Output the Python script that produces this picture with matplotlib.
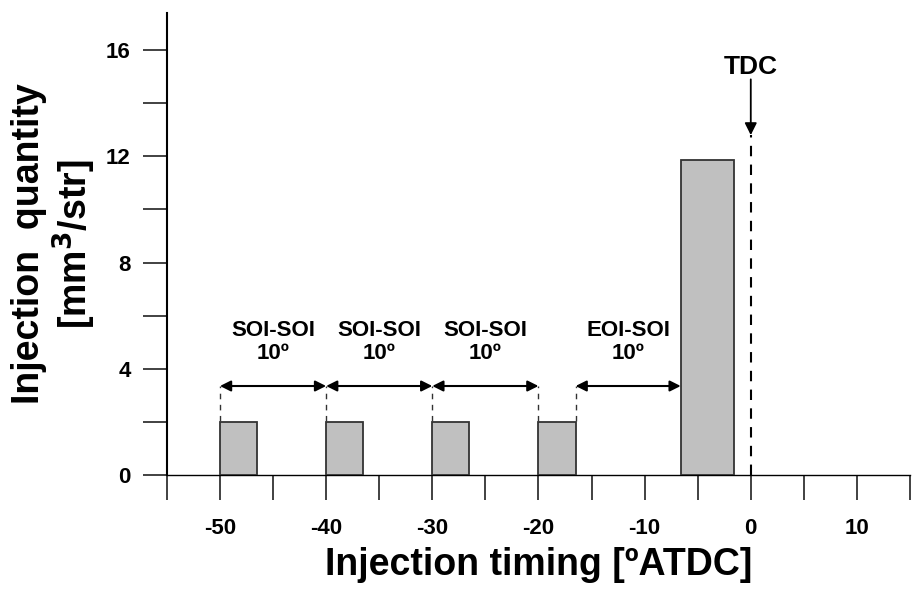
import matplotlib.pyplot as plt
from matplotlib.ticker import MultipleLocator, FixedLocator

plt.rcParams['font.family'] = ['Liberation Sans', 'DejaVu Sans']
plt.rcParams['font.weight'] = 'bold'
plt.rcParams['axes.unicode_minus'] = False

# injection events: start of injection, duration (deg CA), quantity
soi = [-50, -40, -30, -20, -6.6]
duration = [3.5, 3.5, 3.5, 3.5, 5.0]
quantity = [2.0, 2.0, 2.0, 2.0, 11.85]

# dwell annotations: from, to, label
gap_start = [-50, -40, -30, -16.5]
gap_end = [-40, -30, -20, -6.6]
gap_label = ['SOI-SOI\n10º', 'SOI-SOI\n10º', 'SOI-SOI\n10º', 'EOI-SOI\n10º']
arrow_y = 3.35

x_labels = [-50, -40, -30, -20, -10, 0, 10]

fig = plt.figure(figsize=(9.22, 5.9), dpi=100)
ax = fig.add_axes([0.181, 0.195, 0.806, 0.783])

ax.bar(soi, quantity, width=duration, align='edge', color='#c0c0c0',
       edgecolor='#333333', linewidth=1.3, zorder=3)

# dashed guides from bar tops up to the arrows
for x0 in sorted(set(gap_start + gap_end[:-1])):
    ax.plot([x0, x0], [2.05, arrow_y], ls=(0, (4, 4)), color='#333333', lw=1.0)

for a, b, lab in zip(gap_start, gap_end, gap_label):
    ax.annotate('', xy=(b, arrow_y), xytext=(a, arrow_y),
                arrowprops=dict(arrowstyle='<|-|>', color='black', lw=1.5,
                                mutation_scale=16, shrinkA=0, shrinkB=0))
    ax.text((a + b) / 2, 5.0, lab, ha='center', va='center', fontsize=16,
            fontweight='bold', linespacing=1.1)

# TDC marker
ax.plot([0, 0], [0, 12.8], ls=(0, (5, 4)), color='black', lw=1.5)
ax.annotate('', xy=(0, 12.8), xytext=(0, 14.9),
            arrowprops=dict(arrowstyle='-|>', color='black', lw=1.3,
                            mutation_scale=18, shrinkA=0, shrinkB=0))
ax.text(0, 15.35, 'TDC', ha='center', va='center', fontsize=19, fontweight='bold')

ax.set_xlim(-55, 15)
ax.set_ylim(0, 17.4)
ax.xaxis.set_major_locator(FixedLocator(x_labels))
ax.xaxis.set_minor_locator(MultipleLocator(5))
ax.yaxis.set_major_locator(FixedLocator([0, 4, 8, 12, 16]))
ax.yaxis.set_minor_locator(MultipleLocator(2))
ax.tick_params(axis='both', which='both', direction='out', width=1.3,
               color='#333333')
ax.tick_params(axis='x', which='both', length=18)
ax.tick_params(axis='y', which='both', length=17)
ax.tick_params(axis='x', which='major', labelsize=16, pad=13)
ax.tick_params(axis='y', which='major', labelsize=16, pad=9)
ax.spines['top'].set_visible(False)
ax.spines['right'].set_visible(False)
ax.spines['left'].set_linewidth(1.5)
ax.spines['bottom'].set_linewidth(1.0)
for lbl in ax.get_xticklabels() + ax.get_yticklabels():
    lbl.set_fontweight('bold')

ax.set_xlabel('Injection timing [ºATDC]', fontsize=27, fontweight='bold', labelpad=6)
ax.set_ylabel('Injection  quantity\n[mm$^{\\mathbf{3}}$/str]', fontsize=27,
              fontweight='bold', labelpad=6, linespacing=1.1)

fig.savefig('out.png', dpi=100)
